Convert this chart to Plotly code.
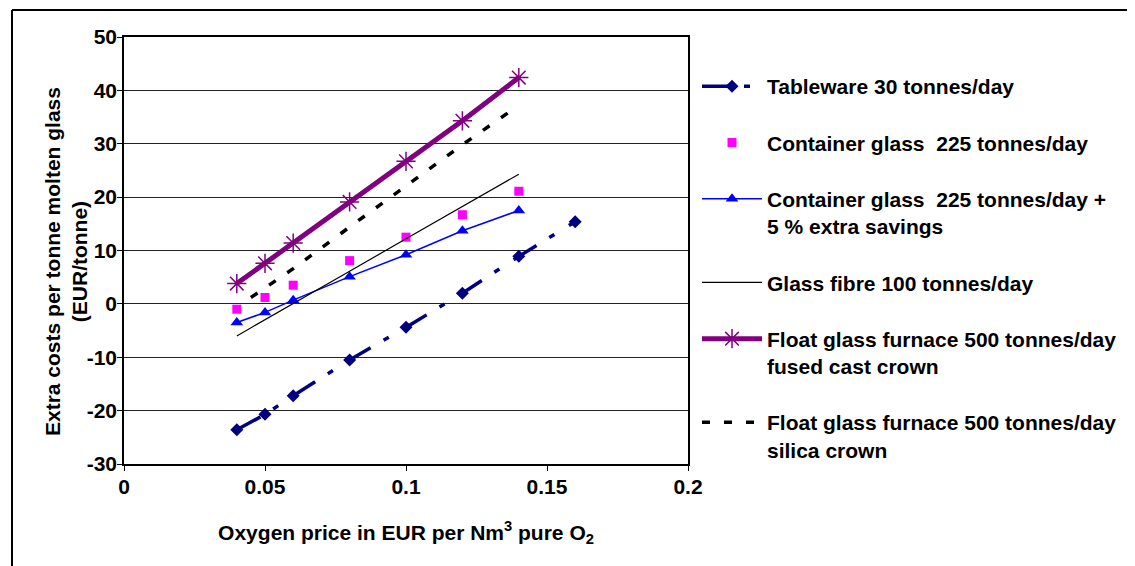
import plotly.graph_objects as go

# ---- data ----
price = [0.04, 0.05, 0.06, 0.08, 0.10, 0.12, 0.14]
tableware_price = [0.04, 0.05, 0.06, 0.08, 0.10, 0.12, 0.14, 0.16]
tableware = [-23.6, -20.7, -17.2, -10.5, -4.4, 2.0, 8.9, 15.4]
container = [-1.0, 1.2, 3.5, 8.1, 12.5, 16.7, 21.1]
container_savings = [-3.5, -1.6, 0.7, 5.1, 9.2, 13.7, 17.5]
glass_fibre = [-6.0, -3.0, 0.1, 6.1, 12.2, 18.2, 24.3]
float_fused = [3.8, 7.6, 11.4, 19.1, 26.7, 34.3, 42.4]
silica_price = [0.045, 0.05, 0.06, 0.08, 0.10, 0.12, 0.14]
float_silica = [1.2, 3.0, 6.6, 14.4, 22.2, 29.8, 37.2]

names = [
    "Tableware 30 tonnes/day",
    "Container glass  225 tonnes/day",
    "Container glass  225 tonnes/day +<br>5 % extra savings",
    "Glass fibre 100 tonnes/day",
    "Float glass furnace 500 tonnes/day<br>fused cast crown",
    "Float glass furnace 500 tonnes/day<br>silica crown",
]
x_ticks = [0, 0.05, 0.1, 0.15, 0.2]
x_tick_text = ["0", "0.05", "0.1", "0.15", "0.2"]
y_ticks = [-30, -20, -10, 0, 10, 20, 30, 40, 50]
y_tick_text = ["-30", "-20", "-10", "0", "10", "20", "30", "40", "50"]
x_title = "<b>Oxygen price in EUR per Nm<sup>3</sup> pure O<sub>2</sub></b>"
y_title = "<b>Extra costs per tonne molten glass<br>(EUR/tonne)</b>"

FONT = "Arial, Liberation Sans, sans-serif"

# page body has an 8px margin; figure is sized/placed to compensate
W, H = 1127, 558
L, T = 116, 29
PW, PH = 564, 427

fig = go.Figure()
fig.add_trace(go.Scatter(
    x=tableware_price, y=tableware, name=names[0], mode="lines+markers",
    line=dict(color="#000080", width=3.5, dash="27px,15px,6px,17px"),
    marker=dict(symbol="diamond", size=10, color="#000080"),
    legendgroup="a"))
fig.add_trace(go.Scatter(
    x=price, y=container, name=names[1], mode="markers",
    marker=dict(symbol="square", size=9, color="#FF00FF"),
    legendgroup="b"))
fig.add_trace(go.Scatter(
    x=price, y=container_savings, name=names[2], mode="lines+markers",
    line=dict(color="#0000FF", width=1.5),
    marker=dict(symbol="triangle-up", size=11, color="#0000FF"),
    legendgroup="c"))
fig.add_trace(go.Scatter(
    x=price, y=glass_fibre, name=names[3], mode="lines",
    line=dict(color="#000000", width=1.2),
    legendgroup="d"))
fig.add_trace(go.Scatter(
    x=price, y=float_fused, name=names[4], mode="lines+markers",
    line=dict(color="#800080", width=5),
    marker=dict(symbol="asterisk-open", size=16, color="#800080",
                line=dict(color="#800080", width=1.5)),
    legendgroup="e"))
fig.add_trace(go.Scatter(
    x=silica_price, y=float_silica, name=names[5], mode="lines",
    line=dict(color="#000000", width=3.5, dash="8px,14px"),
    legendgroup="f"))

fig.update_layout(
    width=W, height=H,
    margin=dict(l=L, r=W - L - PW, t=T, b=H - T - PH),
    paper_bgcolor="white", plot_bgcolor="white",
    font=dict(family=FONT, size=21, color="black"),
    showlegend=True,
    legend=dict(
        x=1 + (697 - 8 - L - PW) / PW, y=0.932, xanchor="left", yanchor="top",
        font=dict(family=FONT, size=21, color="black", weight="bold"),
        tracegroupgap=26, itemwidth=60, valign="top",
        bgcolor="rgba(0,0,0,0)",
    ),
    xaxis=dict(
        range=[0, 0.2], tickvals=x_ticks, ticktext=x_tick_text,
        ticks="outside", ticklen=5, tickcolor="black",
        showline=True, linecolor="black", linewidth=1.5, mirror=True,
        showgrid=False, zeroline=False, ticklabelstandoff=-2,
        tickfont=dict(family=FONT, size=21, weight="bold"),
        title=dict(text=x_title, font=dict(family=FONT, size=21), standoff=28),
    ),
    yaxis=dict(
        range=[-30, 50], tickvals=y_ticks, ticktext=y_tick_text,
        ticks="outside", ticklen=5, tickcolor="black",
        showline=True, linecolor="black", linewidth=1.5, mirror=True,
        showgrid=True, gridcolor="#222222", gridwidth=1, zeroline=False,
        ticklabelstandoff=-4,
        tickfont=dict(family=FONT, size=21, weight="bold"),
    ),
)

# y-axis title placed as rotated text left of the tick labels
fig.add_annotation(
    text=y_title, xref="paper", yref="paper",
    x=(66 - 8 - L) / PW, y=1 - (262 - 8 - T) / PH,
    xanchor="center", yanchor="middle", textangle=-90, showarrow=False,
    font=dict(family=FONT, size=21, color="black"))

# outer chart frame (left and top edges visible in the reference)
fx = (4 - L) / PW
fy = 1 + (T - 2) / PH
fig.add_shape(type="line", xref="paper", yref="paper",
              x0=fx, x1=2.0, y0=fy, y1=fy, line=dict(color="black", width=2))
fig.add_shape(type="line", xref="paper", yref="paper",
              x0=fx, x1=fx, y0=fy, y1=-0.5, line=dict(color="black", width=2))

fig.write_html("out.html")
